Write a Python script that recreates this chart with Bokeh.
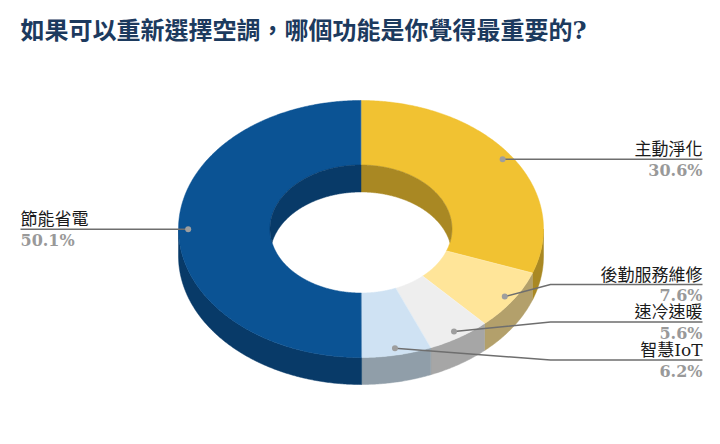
import numpy as np
from bokeh.embed import file_html
from bokeh.resources import INLINE
from bokeh.models import Range1d, ColumnDataSource, Title
from bokeh.plotting import figure
from bokeh.core.properties import value

title_text = "如果可以重新選擇空調\uff0c哪個功能是你覺得最重要的?"
categories = ["主動淨化", "後勤服務維修", "速冷速暖", "智慧IoT", "節能省電"]
shares = [30.6, 7.6, 5.6, 6.2, 50.1]
pct_labels = ["30.6%", "7.6%", "5.6%", "6.2%", "50.1%"]
top_colors = ["#f1c232", "#ffe599", "#eeeeee", "#cfe2f3", "#0b5394"]
wall_colors = ["#a98823", "#b3a06b", "#a6a6a6", "#909ea9", "#083a68"]

CX, CY, RX, RY, IRX, IRY, DEPTH = 360.5, 228.5, 182.5, 128.5, 91.0, 64.0, 27.0
TOP_H = 48
SERIF_CJK = "'DejaVu Serif', 'Noto Sans CJK TC'"

p = figure(width=716, height=440, output_backend="svg", toolbar_location=None,
           x_range=Range1d(0, 716), y_range=Range1d(440, TOP_H),
           min_border=0, min_border_top=TOP_H, outline_line_color=None)
p.axis.visible = False
p.grid.visible = False
p.title = Title(text=title_text, text_font=SERIF_CJK, text_font_size="24px",
                text_font_style="bold", text_color="#1c3a5e", offset=20,
                standoff=8)


def arc(a0, a1, rx, ry, dy=0.0):
    t = np.radians(np.linspace(a0, a1, max(int(abs(a1 - a0)) * 2, 2)))
    return CX + rx * np.sin(t), CY - ry * np.cos(t) + dy


total = sum(shares)
ends = np.cumsum(shares) / total * 360
starts = np.r_[0, ends[:-1]]
mids = (starts + ends) / 2

# outer wall, visible on the front half
for a0, a1, col in zip(starts, ends, wall_colors):
    lo, hi = max(a0, 90), min(a1, 270)
    if lo >= hi:
        continue
    x0, y0 = arc(lo, hi, RX, RY)
    x1, y1 = arc(hi, lo, RX, RY, DEPTH)
    p.patch(np.r_[x0, x1], np.r_[y0, y1], fill_color=col, line_color=col, line_width=0.5)

# top surface
for a0, a1, col in zip(starts, ends, top_colors):
    x0, y0 = arc(a0, a1, RX, RY)
    x1, y1 = arc(a1, a0, IRX, IRY)
    p.patch(np.r_[x0, x1], np.r_[y0, y1], fill_color=col, line_color=col, line_width=0.5)

# thin seams between the slices
for a in starts:
    t = np.radians(a)
    p.line([CX + IRX * np.sin(t), CX + RX * np.sin(t)],
           [CY - IRY * np.cos(t), CY - RY * np.cos(t)],
           line_color="white", line_width=0.5, line_alpha=0.4)

# inner wall, visible on the back half of the hole
d = np.degrees(np.arcsin(DEPTH / 2 / IRY))
for a0, a1, col in zip(starts, ends, wall_colors):
    for s0, s1, u0, u1, l0, l1 in [(a0, a1, 0, 90 + d, 0, 90 - d),
                                    (a0 - 360, a1 - 360, -90 - d, 0, -90 + d, 0)]:
        ua, ub = max(s0, u0), min(s1, u1)
        la, lb = max(s0, l0), min(s1, l1)
        if ua >= ub or la >= lb:
            continue
        x0, y0 = arc(ua, ub, IRX, IRY)
        x1, y1 = arc(lb, la, IRX, IRY, DEPTH)
        p.patch(np.r_[x0, x1], np.r_[y0, y1], fill_color=col, line_color=col, line_width=0.5)

# leader anchors
ax = CX + 0.947 * RX * np.sin(np.radians(mids))
ay = CY - 0.947 * RY * np.cos(np.radians(mids))
line_y = [ay[0], 284.0, 321.5, 359.5, ay[4]]
text_x = [702, 702, 702, 702, 20]
for i in range(5):
    if i == 4:
        xs, ys = [ax[i], 20], [ay[i], ay[i]]
    elif i == 0:
        xs, ys = [ax[i], 702], [ay[i], ay[i]]
    else:
        xs, ys = [ax[i], 550, 702], [ay[i], line_y[i], line_y[i]]
    p.line(xs, ys, line_color="#6e6e6e", line_width=1.5)
p.scatter(ax, ay, size=6, fill_color="#9e9e9e", line_color=None)

for i in range(5):
    align = "left" if i == 4 else "right"
    src_a = ColumnDataSource(dict(x=[text_x[i]], y=[line_y[i] - 10], t=[categories[i]]))
    p.text("x", "y", text="t", source=src_a, text_align=align, text_baseline="middle",
           text_font=value(SERIF_CJK), text_font_size="17px", text_color="#1a1a1a")
    src_b = ColumnDataSource(dict(x=[text_x[i]], y=[line_y[i] + 11], t=[pct_labels[i]]))
    p.text("x", "y", text="t", source=src_b, text_align=align, text_baseline="middle",
           text_font=value("DejaVu Serif"), text_font_size="16px", text_font_style="bold",
           text_color="#999999")

open("out.html", "w").write(file_html(p, INLINE))
